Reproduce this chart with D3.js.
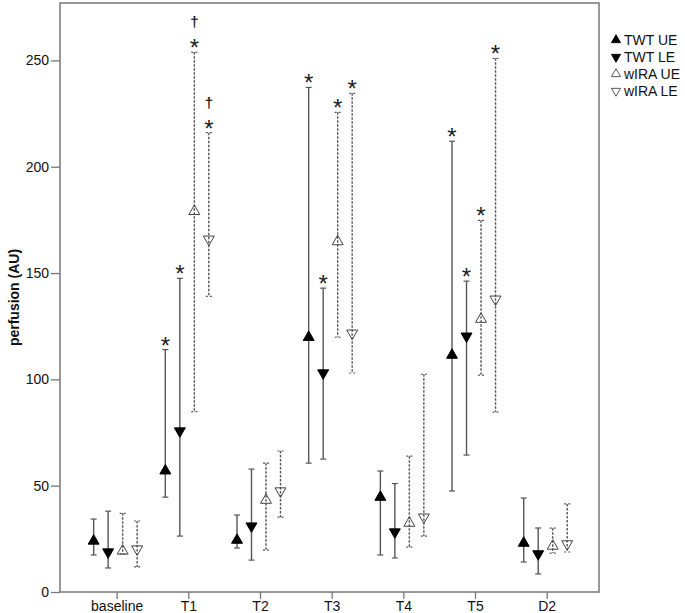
<!DOCTYPE html>
<html>
<head>
<meta charset="utf-8">
<script src="https://cdn.jsdelivr.net/npm/d3@7"></script>
<style>
  body { margin: 0; background: #fff; }
  svg { display: block; font-family: "Liberation Sans", Arial, sans-serif; }
</style>
</head>
<body>
<div class="wrapper"></div>
<script>
const categories = ["baseline", "T1", "T2", "T3", "T4", "T5", "D2"];
const seriesNames = ["TWT UE", "TWT LE", "wIRA UE", "wIRA LE"];
const yTicks = [0, 50, 100, 150, 200, 250];

// mean, lower CI, upper CI per timepoint
const twtUEMean = [24, 57, 24.4, 119.8, 44.6, 111.4, 23];
const twtUELow = [17.4, 44.6, 20.7, 60.6, 17.4, 47.5, 14.1];
const twtUEHigh = [34.3, 114, 36.2, 237.3, 56.9, 212, 44.2];

const twtLEMean = [18.8, 75.7, 31, 103, 28.2, 120.3, 17.9];
const twtLELow = [11.3, 26.3, 15, 62.5, 16, 64.4, 8.5];
const twtLEHigh = [38, 147.5, 57.8, 142.9, 51, 146.2, 30.1];

const wiraUEMean = [19.3, 179, 43.2, 164.8, 32.4, 128.3, 21.6];
const wiraUELow = [17.9, 84.8, 19.7, 119.8, 21.1, 102, 18.3];
const wiraUEHigh = [37, 253.8, 60.6, 225.6, 63.9, 174.8, 30];

const wiraLEMean = [20.2, 165.9, 47.5, 121.7, 35.2, 137.7, 22.6];
const wiraLELow = [11.8, 139, 35.2, 103, 26.3, 84.6, 18.8];
const wiraLEHigh = [33.4, 216, 66.3, 234.5, 102.4, 251, 41.4];

// significance markers (1 = shown)
const twtUEStar = [0, 1, 0, 1, 0, 1, 0];
const twtLEStar = [0, 1, 0, 1, 0, 1, 0];
const wiraUEStar = [0, 1, 0, 1, 0, 1, 0];
const wiraLEStar = [0, 1, 0, 1, 0, 1, 0];
const wiraUEDagger = [0, 1, 0, 0, 0, 0, 0];
const wiraLEDagger = [0, 1, 0, 0, 0, 0, 0];

const series = [
  { name: seriesNames[0], mean: twtUEMean, lo: twtUELow, hi: twtUEHigh, star: twtUEStar, dagger: null, up: true, filled: true, dash: null },
  { name: seriesNames[1], mean: twtLEMean, lo: twtLELow, hi: twtLEHigh, star: twtLEStar, dagger: null, up: false, filled: true, dash: null },
  { name: seriesNames[2], mean: wiraUEMean, lo: wiraUELow, hi: wiraUEHigh, star: wiraUEStar, dagger: wiraUEDagger, up: true, filled: false, dash: "2.5,1.5" },
  { name: seriesNames[3], mean: wiraLEMean, lo: wiraLELow, hi: wiraLEHigh, star: wiraLEStar, dagger: wiraLEDagger, up: false, filled: false, dash: "2.5,1.5" }
];
const offsets = [-23, -8.5, 6, 20.5];

const width = 685, height = 613;
const plot = { left: 60, right: 599, top: 3, bottom: 592 };

const svg = d3.select(".wrapper").append("svg")
  .attr("width", width)
  .attr("height", height);

const y = d3.scaleLinear().domain([0, 277]).range([plot.bottom, plot.top]);
const x = d3.scalePoint().domain(categories).range([plot.left, plot.right]).padding(0.76).align(0.52);

const lineColor = "#555";

// frame
svg.append("rect")
  .attr("x", plot.left)
  .attr("y", plot.top)
  .attr("width", plot.right - plot.left)
  .attr("height", plot.bottom - plot.top)
  .attr("fill", "none")
  .attr("stroke", "#777")
  .attr("stroke-width", 1.5);

// y axis
const yAxis = svg.append("g")
  .attr("transform", "translate(" + plot.left + ",0)")
  .call(d3.axisLeft(y).tickValues(yTicks).tickSize(9).tickPadding(2));
yAxis.select(".domain").remove();
yAxis.selectAll("line").attr("stroke", "#777").attr("stroke-width", 1.3);
yAxis.selectAll("text").style("font-size", "14px").attr("fill", "#111");

// x axis
const xAxis = svg.append("g")
  .attr("transform", "translate(0," + plot.bottom + ")")
  .call(d3.axisBottom(x).tickSize(7).tickPadding(2));
xAxis.select(".domain").remove();
xAxis.selectAll("line").attr("stroke", "#777").attr("stroke-width", 1.3);
xAxis.selectAll("text").style("font-size", "14px").attr("fill", "#111");

// y title
svg.append("text")
  .attr("transform", "translate(19," + ((plot.top + plot.bottom) / 2) + ") rotate(-90)")
  .attr("text-anchor", "middle")
  .style("font-size", "14px")
  .style("font-weight", "bold")
  .attr("fill", "#111")
  .text("perfusion (AU)");

const triUp = d3.symbol().type(d3.symbolTriangle).size(52);

series.forEach((s, si) => {
  const g = svg.append("g");
  const cx = i => x(categories[i]) + offsets[si];
  const idx = d3.range(categories.length);

  // vertical CI line
  g.selectAll("line.ci")
    .data(idx)
    .enter()
    .append("line")
    .attr("x1", cx).attr("x2", cx)
    .attr("y1", i => y(s.hi[i]))
    .attr("y2", i => y(s.lo[i]))
    .attr("stroke", lineColor)
    .attr("stroke-width", 1.4)
    .attr("stroke-dasharray", s.dash);

  // caps
  ["hi", "lo"].forEach(k => {
    g.selectAll("line.cap" + k)
      .data(idx)
      .enter()
      .append("line")
      .attr("x1", i => cx(i) - 3)
      .attr("x2", i => cx(i) + 3)
      .attr("y1", i => y(s[k][i]))
      .attr("y2", i => y(s[k][i]))
      .attr("stroke", lineColor)
      .attr("stroke-width", 1.2)
      .attr("stroke-dasharray", s.dash ? "2,2" : null);
  });

  // mean markers
  g.selectAll("path.mean")
    .data(idx)
    .enter()
    .append("path")
    .attr("d", triUp)
    .attr("transform", i => "translate(" + cx(i) + "," + y(s.mean[i]) + ")" + (s.up ? "" : " rotate(180)"))
    .attr("fill", s.filled ? "#000" : "none")
    .attr("stroke", s.filled ? "#000" : "#444")
    .attr("stroke-width", 1);

  // asterisks
  g.selectAll("text.star")
    .data(idx.filter(i => s.star[i]))
    .enter()
    .append("text")
    .attr("x", cx)
    .attr("y", i => y(s.hi[i]) + 4)
    .attr("text-anchor", "middle")
    .style("font-size", "24px")
    .attr("fill", "#222")
    .text("*");

  if (s.dagger) {
    g.selectAll("text.dagger")
      .data(idx.filter(i => s.dagger[i]))
      .enter()
      .append("text")
      .attr("x", cx)
      .attr("y", i => y(s.hi[i]) - 25)
      .attr("text-anchor", "middle")
      .style("font-size", "15px")
      .style("font-weight", "bold")
      .attr("fill", "#222")
      .text("\u2020");
  }
});

// legend
const legend = svg.append("g").attr("transform", "translate(613,40)");
series.forEach((s, i) => {
  const row = legend.append("g").attr("transform", "translate(0," + i * 17 + ")");
  row.append("path")
    .attr("d", d3.symbol().type(d3.symbolTriangle).size(36))
    .attr("transform", "translate(3,0)" + (s.up ? "" : " rotate(180)"))
    .attr("fill", s.filled ? "#000" : "none")
    .attr("stroke", s.filled ? "#000" : "#444")
    .attr("stroke-width", 0.9);
  row.append("text")
    .attr("x", 11)
    .attr("y", 5)
    .style("font-size", "14px")
    .attr("fill", "#111")
    .text(s.name);
});
</script>
</body>
</html>
